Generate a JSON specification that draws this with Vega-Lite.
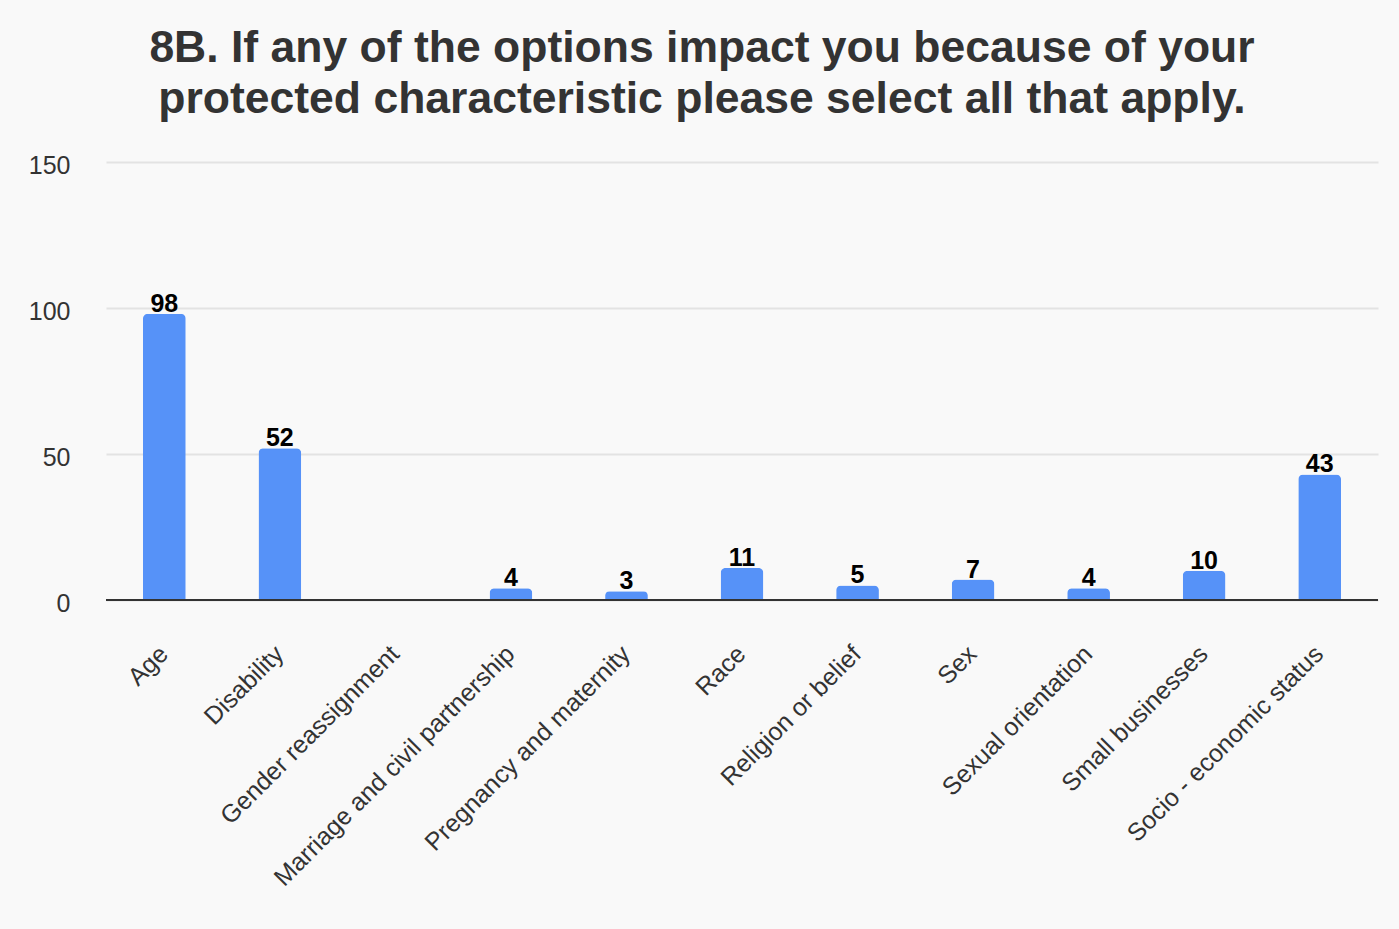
{
  "$schema": "https://vega.github.io/schema/vega-lite/v6.json",
  "autosize": {"type": "none"},
  "width": 1272,
  "height": 438,
  "padding": {"top": 162, "left": 106, "right": 21, "bottom": 329},
  "background": "#f9f9f9",
  "title": {
    "text": ["8B. If any of the options impact you because of your", "protected characteristic please select all that apply."],
    "font": "Liberation Sans",
    "fontSize": 44.5,
    "fontWeight": "bold",
    "color": "#333333",
    "lineHeight": 51,
    "anchor": "middle",
    "dx": -40,
    "offset": 31
  },
  "data": {
    "values": [
      {"option": "Age", "count": 98},
      {"option": "Disability", "count": 52},
      {"option": "Gender reassignment", "count": 0},
      {"option": "Marriage and civil partnership", "count": 4},
      {"option": "Pregnancy and maternity", "count": 3},
      {"option": "Race", "count": 11},
      {"option": "Religion or belief", "count": 5},
      {"option": "Sex", "count": 7},
      {"option": "Sexual orientation", "count": 4},
      {"option": "Small businesses", "count": 10},
      {"option": "Socio - economic status", "count": 43}
    ]
  },
  "config": {"view": {"stroke": null}},
  "encoding": {
    "x": {
      "field": "option", "type": "nominal", "sort": null, "title": null,
      "scale": {"paddingInner": 0.63, "paddingOuter": 0.32},
      "axis": {
        "labelAngle": -45, "labelFont": "Liberation Sans", "labelFontSize": 25,
        "labelColor": "#333333", "labelPadding": 41, "labelOffset": -9, "ticks": false,
        "domain": false, "labelLimit": 0
      }
    },
    "y": {
      "field": "count", "type": "quantitative", "title": null,
      "scale": {"domain": [0, 150]},
      "axis": {
        "values": [0, 50, 100, 150], "labelFont": "Liberation Sans", "labelFontSize": 25,
        "labelColor": "#333333", "labelPadding": 36, "labelOffset": 3, "ticks": false, "domain": false,
        "gridColor": "#e3e3e3", "gridWidth": 2
      }
    }
  },
  "layer": [
    {
      "mark": {"type": "bar", "color": "#5692f8", "cornerRadiusTopLeft": 5, "cornerRadiusTopRight": 5}
    },
    {
      "mark": {"type": "rule", "color": "#333333", "strokeWidth": 2},
      "data": {"values": [{"z": 0}]},
      "encoding": {"y": {"field": "z", "type": "quantitative"}, "x": {"value": 0}, "x2": {"value": 1272}}
    },
    {
      "transform": [{"filter": "datum.count > 0"}],
      "mark": {"type": "text", "baseline": "bottom", "dy": 3, "font": "Liberation Sans", "fontSize": 25, "fontWeight": "bold", "color": "#000000"},
      "encoding": {"text": {"field": "count", "type": "quantitative"}}
    }
  ]
}
